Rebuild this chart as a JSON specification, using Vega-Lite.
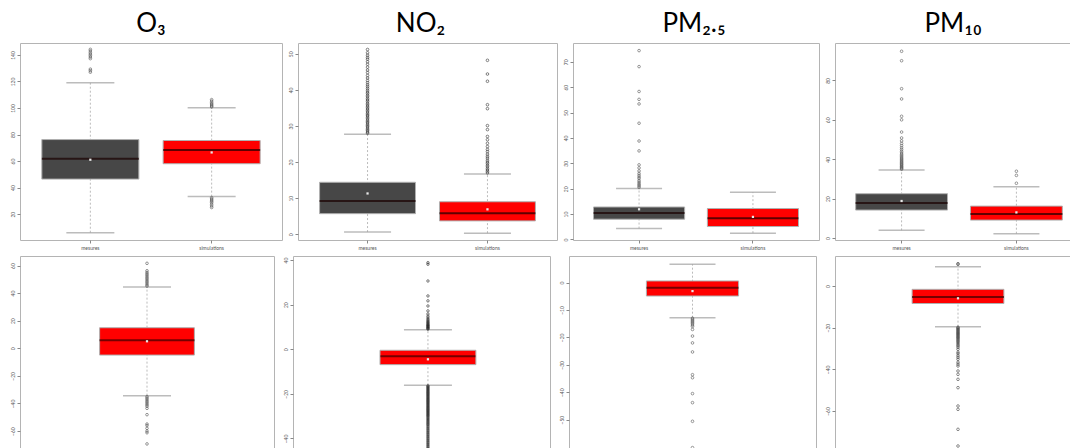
{
"$schema": "https://vega.github.io/schema/vega-lite/v6.json",
"background": "white",
"padding": {"left": 9, "top": 10, "right": 0, "bottom": 0},
"datasets": {
"boxes": [
{"panel":"O3","cat":"mesures","lo":6,"q1":46.4,"med":61.7,"q3":76.2,"hi":119,"mean":61},
{"panel":"O3","cat":"simulations","lo":33.2,"q1":58,"med":68.3,"q3":75.5,"hi":100.2,"mean":66.5},
{"panel":"NO2","cat":"mesures","lo":0.6,"q1":5.7,"med":9.2,"q3":14.4,"hi":27.7,"mean":11.3},
{"panel":"NO2","cat":"simulations","lo":0.3,"q1":3.7,"med":5.8,"q3":9,"hi":16.7,"mean":6.9},
{"panel":"PM25","cat":"mesures","lo":4.3,"q1":8,"med":10.4,"q3":12.8,"hi":20.1,"mean":11.9},
{"panel":"PM25","cat":"simulations","lo":2.5,"q1":5.1,"med":8.4,"q3":12.2,"hi":18.6,"mean":8.9},
{"panel":"PM10","cat":"mesures","lo":3.9,"q1":14.2,"med":17.8,"q3":22.5,"hi":34.5,"mean":18.8},
{"panel":"PM10","cat":"simulations","lo":2.2,"q1":9.1,"med":12.2,"q3":16.2,"hi":26,"mean":13},
{"panel":"dO3","cat":"diff","lo":-34.3,"q1":-4.9,"med":5.8,"q3":14.9,"hi":44.4,"mean":5.1},
{"panel":"dNO2","cat":"diff","lo":-16.1,"q1":-6.9,"med":-3.1,"q3":-0.45,"hi":8.7,"mean":-4.5},
{"panel":"dPM25","cat":"diff","lo":-12.8,"q1":-4.9,"med":-1.9,"q3":0.6,"hi":6.7,"mean":-3.1},
{"panel":"dPM10","cat":"diff","lo":-19.5,"q1":-8.4,"med":-5.3,"q3":-1.6,"hi":9.3,"mean":-5.9}
],
"outliers": [
{"panel":"O3","cat":"mesures","v":127},{"panel":"O3","cat":"mesures","v":128.2},{"panel":"O3","cat":"mesures","v":129.3},{"panel":"O3","cat":"mesures","v":137.2},{"panel":"O3","cat":"mesures","v":138.4},{"panel":"O3","cat":"mesures","v":139.5},{"panel":"O3","cat":"mesures","v":140.6},{"panel":"O3","cat":"mesures","v":141.7},{"panel":"O3","cat":"mesures","v":143},{"panel":"O3","cat":"mesures","v":144.2},
{"panel":"O3","cat":"simulations","v":100.8},{"panel":"O3","cat":"simulations","v":101.5},{"panel":"O3","cat":"simulations","v":102.3},{"panel":"O3","cat":"simulations","v":103.1},{"panel":"O3","cat":"simulations","v":104},{"panel":"O3","cat":"simulations","v":105.2},{"panel":"O3","cat":"simulations","v":106.3},{"panel":"O3","cat":"simulations","v":32.4},{"panel":"O3","cat":"simulations","v":31.5},{"panel":"O3","cat":"simulations","v":30.6},{"panel":"O3","cat":"simulations","v":29.7},{"panel":"O3","cat":"simulations","v":28.8},{"panel":"O3","cat":"simulations","v":27.5},{"panel":"O3","cat":"simulations","v":26.2},{"panel":"O3","cat":"simulations","v":25},
{"panel":"NO2","cat":"mesures","v":28.0},{"panel":"NO2","cat":"mesures","v":28.3},{"panel":"NO2","cat":"mesures","v":28.7},{"panel":"NO2","cat":"mesures","v":29.0},{"panel":"NO2","cat":"mesures","v":29.4},{"panel":"NO2","cat":"mesures","v":29.8},{"panel":"NO2","cat":"mesures","v":30.1},{"panel":"NO2","cat":"mesures","v":30.5},{"panel":"NO2","cat":"mesures","v":30.9},{"panel":"NO2","cat":"mesures","v":31.2},{"panel":"NO2","cat":"mesures","v":31.6},{"panel":"NO2","cat":"mesures","v":32.0},{"panel":"NO2","cat":"mesures","v":32.4},{"panel":"NO2","cat":"mesures","v":32.8},{"panel":"NO2","cat":"mesures","v":33.1},{"panel":"NO2","cat":"mesures","v":33.5},{"panel":"NO2","cat":"mesures","v":33.9},{"panel":"NO2","cat":"mesures","v":34.3},{"panel":"NO2","cat":"mesures","v":34.7},{"panel":"NO2","cat":"mesures","v":35.1},{"panel":"NO2","cat":"mesures","v":35.5},{"panel":"NO2","cat":"mesures","v":35.9},{"panel":"NO2","cat":"mesures","v":36.3},{"panel":"NO2","cat":"mesures","v":36.8},{"panel":"NO2","cat":"mesures","v":37.2},{"panel":"NO2","cat":"mesures","v":37.6},{"panel":"NO2","cat":"mesures","v":38.1},{"panel":"NO2","cat":"mesures","v":38.5},{"panel":"NO2","cat":"mesures","v":39.0},{"panel":"NO2","cat":"mesures","v":39.4},{"panel":"NO2","cat":"mesures","v":39.9},{"panel":"NO2","cat":"mesures","v":40.4},{"panel":"NO2","cat":"mesures","v":40.9},{"panel":"NO2","cat":"mesures","v":41.4},{"panel":"NO2","cat":"mesures","v":42.0},{"panel":"NO2","cat":"mesures","v":42.6},{"panel":"NO2","cat":"mesures","v":43.3},{"panel":"NO2","cat":"mesures","v":44.0},{"panel":"NO2","cat":"mesures","v":44.8},{"panel":"NO2","cat":"mesures","v":45.5},{"panel":"NO2","cat":"mesures","v":46.3},{"panel":"NO2","cat":"mesures","v":47.1},{"panel":"NO2","cat":"mesures","v":47.8},{"panel":"NO2","cat":"mesures","v":48.5},{"panel":"NO2","cat":"mesures","v":49.0},{"panel":"NO2","cat":"mesures","v":49.6},{"panel":"NO2","cat":"mesures","v":50.3},{"panel":"NO2","cat":"mesures","v":51.2},
{"panel":"NO2","cat":"simulations","v":17.0},{"panel":"NO2","cat":"simulations","v":17.4},{"panel":"NO2","cat":"simulations","v":17.8},{"panel":"NO2","cat":"simulations","v":18.2},{"panel":"NO2","cat":"simulations","v":18.7},{"panel":"NO2","cat":"simulations","v":19.1},{"panel":"NO2","cat":"simulations","v":19.6},{"panel":"NO2","cat":"simulations","v":20.0},{"panel":"NO2","cat":"simulations","v":20.5},{"panel":"NO2","cat":"simulations","v":21.1},{"panel":"NO2","cat":"simulations","v":21.6},{"panel":"NO2","cat":"simulations","v":22.2},{"panel":"NO2","cat":"simulations","v":22.9},{"panel":"NO2","cat":"simulations","v":23.5},{"panel":"NO2","cat":"simulations","v":24.3},{"panel":"NO2","cat":"simulations","v":25.2},{"panel":"NO2","cat":"simulations","v":26.2},{"panel":"NO2","cat":"simulations","v":27.1},{"panel":"NO2","cat":"simulations","v":29.0},{"panel":"NO2","cat":"simulations","v":30.1},{"panel":"NO2","cat":"simulations","v":34.8},{"panel":"NO2","cat":"simulations","v":35.9},{"panel":"NO2","cat":"simulations","v":42.4},{"panel":"NO2","cat":"simulations","v":44.4},{"panel":"NO2","cat":"simulations","v":48.2},
{"panel":"PM25","cat":"mesures","v":20.5},{"panel":"PM25","cat":"mesures","v":21},{"panel":"PM25","cat":"mesures","v":21.5},{"panel":"PM25","cat":"mesures","v":22},{"panel":"PM25","cat":"mesures","v":22.6},{"panel":"PM25","cat":"mesures","v":23.2},{"panel":"PM25","cat":"mesures","v":24},{"panel":"PM25","cat":"mesures","v":24.6},{"panel":"PM25","cat":"mesures","v":25.3},{"panel":"PM25","cat":"mesures","v":26},{"panel":"PM25","cat":"mesures","v":27},{"panel":"PM25","cat":"mesures","v":28.2},{"panel":"PM25","cat":"mesures","v":29.4},{"panel":"PM25","cat":"mesures","v":34.9},{"panel":"PM25","cat":"mesures","v":38.8},{"panel":"PM25","cat":"mesures","v":45.8},{"panel":"PM25","cat":"mesures","v":53.4},{"panel":"PM25","cat":"mesures","v":55.2},{"panel":"PM25","cat":"mesures","v":58.3},{"panel":"PM25","cat":"mesures","v":68.1},{"panel":"PM25","cat":"mesures","v":74.4},
{"panel":"PM10","cat":"mesures","v":34.9},{"panel":"PM10","cat":"mesures","v":35.3},{"panel":"PM10","cat":"mesures","v":35.7},{"panel":"PM10","cat":"mesures","v":36.1},{"panel":"PM10","cat":"mesures","v":36.5},{"panel":"PM10","cat":"mesures","v":37.0},{"panel":"PM10","cat":"mesures","v":37.4},{"panel":"PM10","cat":"mesures","v":37.8},{"panel":"PM10","cat":"mesures","v":38.3},{"panel":"PM10","cat":"mesures","v":38.7},{"panel":"PM10","cat":"mesures","v":39.2},{"panel":"PM10","cat":"mesures","v":39.7},{"panel":"PM10","cat":"mesures","v":40.2},{"panel":"PM10","cat":"mesures","v":40.7},{"panel":"PM10","cat":"mesures","v":41.3},{"panel":"PM10","cat":"mesures","v":41.9},{"panel":"PM10","cat":"mesures","v":42.5},{"panel":"PM10","cat":"mesures","v":43.2},{"panel":"PM10","cat":"mesures","v":44.0},{"panel":"PM10","cat":"mesures","v":44.9},{"panel":"PM10","cat":"mesures","v":45.8},{"panel":"PM10","cat":"mesures","v":46.9},{"panel":"PM10","cat":"mesures","v":48.0},{"panel":"PM10","cat":"mesures","v":49.3},{"panel":"PM10","cat":"mesures","v":50.8},{"panel":"PM10","cat":"mesures","v":53.8},{"panel":"PM10","cat":"mesures","v":60.0},{"panel":"PM10","cat":"mesures","v":61.8},{"panel":"PM10","cat":"mesures","v":70.6},{"panel":"PM10","cat":"mesures","v":75.8},{"panel":"PM10","cat":"mesures","v":90.0},{"panel":"PM10","cat":"mesures","v":94.8},
{"panel":"PM10","cat":"simulations","v":27.8},{"panel":"PM10","cat":"simulations","v":31.8},{"panel":"PM10","cat":"simulations","v":33.9},
{"panel":"dO3","cat":"diff","v":45.1},{"panel":"dO3","cat":"diff","v":46},{"panel":"dO3","cat":"diff","v":47},{"panel":"dO3","cat":"diff","v":48},{"panel":"dO3","cat":"diff","v":49},{"panel":"dO3","cat":"diff","v":50},{"panel":"dO3","cat":"diff","v":51},{"panel":"dO3","cat":"diff","v":52},{"panel":"dO3","cat":"diff","v":53},{"panel":"dO3","cat":"diff","v":54},{"panel":"dO3","cat":"diff","v":55},{"panel":"dO3","cat":"diff","v":56.2},{"panel":"dO3","cat":"diff","v":61.6},
{"panel":"dO3","cat":"diff","v":-35},{"panel":"dO3","cat":"diff","v":-36},{"panel":"dO3","cat":"diff","v":-37},{"panel":"dO3","cat":"diff","v":-38},{"panel":"dO3","cat":"diff","v":-39},{"panel":"dO3","cat":"diff","v":-40},{"panel":"dO3","cat":"diff","v":-41},{"panel":"dO3","cat":"diff","v":-42},{"panel":"dO3","cat":"diff","v":-43.5},{"panel":"dO3","cat":"diff","v":-48.1},{"panel":"dO3","cat":"diff","v":-54.9},{"panel":"dO3","cat":"diff","v":-56},{"panel":"dO3","cat":"diff","v":-58},{"panel":"dO3","cat":"diff","v":-60},{"panel":"dO3","cat":"diff","v":-61.2},{"panel":"dO3","cat":"diff","v":-69.3},
{"panel":"dNO2","cat":"diff","v":9.0},{"panel":"dNO2","cat":"diff","v":9.3},{"panel":"dNO2","cat":"diff","v":9.6},{"panel":"dNO2","cat":"diff","v":9.9},{"panel":"dNO2","cat":"diff","v":10.2},{"panel":"dNO2","cat":"diff","v":10.5},{"panel":"dNO2","cat":"diff","v":10.8},{"panel":"dNO2","cat":"diff","v":11.1},{"panel":"dNO2","cat":"diff","v":11.5},{"panel":"dNO2","cat":"diff","v":11.9},{"panel":"dNO2","cat":"diff","v":12.3},{"panel":"dNO2","cat":"diff","v":12.8},{"panel":"dNO2","cat":"diff","v":13.3},{"panel":"dNO2","cat":"diff","v":14.0},{"panel":"dNO2","cat":"diff","v":14.8},{"panel":"dNO2","cat":"diff","v":15.8},{"panel":"dNO2","cat":"diff","v":17.2},{"panel":"dNO2","cat":"diff","v":19.4},{"panel":"dNO2","cat":"diff","v":21.7},{"panel":"dNO2","cat":"diff","v":23.9},{"panel":"dNO2","cat":"diff","v":30.6},{"panel":"dNO2","cat":"diff","v":38.1},{"panel":"dNO2","cat":"diff","v":38.8},
{"panel":"dNO2","cat":"diff","v":-16.4},{"panel":"dNO2","cat":"diff","v":-16.8},{"panel":"dNO2","cat":"diff","v":-17.2},{"panel":"dNO2","cat":"diff","v":-17.6},{"panel":"dNO2","cat":"diff","v":-18.0},{"panel":"dNO2","cat":"diff","v":-18.4},{"panel":"dNO2","cat":"diff","v":-18.8},{"panel":"dNO2","cat":"diff","v":-19.2},{"panel":"dNO2","cat":"diff","v":-19.6},{"panel":"dNO2","cat":"diff","v":-20.0},{"panel":"dNO2","cat":"diff","v":-20.4},{"panel":"dNO2","cat":"diff","v":-20.8},{"panel":"dNO2","cat":"diff","v":-21.2},{"panel":"dNO2","cat":"diff","v":-21.6},{"panel":"dNO2","cat":"diff","v":-22.0},{"panel":"dNO2","cat":"diff","v":-22.4},{"panel":"dNO2","cat":"diff","v":-22.8},{"panel":"dNO2","cat":"diff","v":-23.2},{"panel":"dNO2","cat":"diff","v":-23.6},{"panel":"dNO2","cat":"diff","v":-24.0},{"panel":"dNO2","cat":"diff","v":-24.4},{"panel":"dNO2","cat":"diff","v":-24.8},{"panel":"dNO2","cat":"diff","v":-25.2},{"panel":"dNO2","cat":"diff","v":-25.6},{"panel":"dNO2","cat":"diff","v":-26.0},{"panel":"dNO2","cat":"diff","v":-26.4},{"panel":"dNO2","cat":"diff","v":-26.8},{"panel":"dNO2","cat":"diff","v":-27.2},{"panel":"dNO2","cat":"diff","v":-27.6},{"panel":"dNO2","cat":"diff","v":-28.0},{"panel":"dNO2","cat":"diff","v":-28.4},{"panel":"dNO2","cat":"diff","v":-28.8},{"panel":"dNO2","cat":"diff","v":-29.2},{"panel":"dNO2","cat":"diff","v":-29.6},{"panel":"dNO2","cat":"diff","v":-30.0},{"panel":"dNO2","cat":"diff","v":-30.5},{"panel":"dNO2","cat":"diff","v":-31.0},{"panel":"dNO2","cat":"diff","v":-31.5},{"panel":"dNO2","cat":"diff","v":-32.0},{"panel":"dNO2","cat":"diff","v":-32.5},{"panel":"dNO2","cat":"diff","v":-33.0},{"panel":"dNO2","cat":"diff","v":-33.5},{"panel":"dNO2","cat":"diff","v":-34.0},{"panel":"dNO2","cat":"diff","v":-34.6},{"panel":"dNO2","cat":"diff","v":-35.2},{"panel":"dNO2","cat":"diff","v":-35.8},{"panel":"dNO2","cat":"diff","v":-36.4},{"panel":"dNO2","cat":"diff","v":-37.0},{"panel":"dNO2","cat":"diff","v":-37.6},{"panel":"dNO2","cat":"diff","v":-38.2},{"panel":"dNO2","cat":"diff","v":-38.8},{"panel":"dNO2","cat":"diff","v":-39.4},{"panel":"dNO2","cat":"diff","v":-40.0},{"panel":"dNO2","cat":"diff","v":-40.6},{"panel":"dNO2","cat":"diff","v":-41.2},{"panel":"dNO2","cat":"diff","v":-41.8},{"panel":"dNO2","cat":"diff","v":-42.4},{"panel":"dNO2","cat":"diff","v":-43.0},{"panel":"dNO2","cat":"diff","v":-43.6},{"panel":"dNO2","cat":"diff","v":-44.2},{"panel":"dNO2","cat":"diff","v":-44.8},{"panel":"dNO2","cat":"diff","v":-45.6},{"panel":"dNO2","cat":"diff","v":-46.4},{"panel":"dNO2","cat":"diff","v":-47.5},{"panel":"dNO2","cat":"diff","v":-48.6},{"panel":"dNO2","cat":"diff","v":-50.0},
{"panel":"dPM25","cat":"diff","v":-13},{"panel":"dPM25","cat":"diff","v":-13.4},{"panel":"dPM25","cat":"diff","v":-13.8},{"panel":"dPM25","cat":"diff","v":-14.2},{"panel":"dPM25","cat":"diff","v":-14.6},{"panel":"dPM25","cat":"diff","v":-15},{"panel":"dPM25","cat":"diff","v":-15.5},{"panel":"dPM25","cat":"diff","v":-16},{"panel":"dPM25","cat":"diff","v":-17.1},{"panel":"dPM25","cat":"diff","v":-19.5},{"panel":"dPM25","cat":"diff","v":-22},{"panel":"dPM25","cat":"diff","v":-25.3},{"panel":"dPM25","cat":"diff","v":-33.6},{"panel":"dPM25","cat":"diff","v":-34.7},{"panel":"dPM25","cat":"diff","v":-40.5},{"panel":"dPM25","cat":"diff","v":-43.8},{"panel":"dPM25","cat":"diff","v":-50.6},{"panel":"dPM25","cat":"diff","v":-60.2},
{"panel":"dPM10","cat":"diff","v":10.4},{"panel":"dPM10","cat":"diff","v":10.7},
{"panel":"dPM10","cat":"diff","v":-19.8},{"panel":"dPM10","cat":"diff","v":-20.2},{"panel":"dPM10","cat":"diff","v":-20.6},{"panel":"dPM10","cat":"diff","v":-21.0},{"panel":"dPM10","cat":"diff","v":-21.4},{"panel":"dPM10","cat":"diff","v":-21.8},{"panel":"dPM10","cat":"diff","v":-22.2},{"panel":"dPM10","cat":"diff","v":-22.6},{"panel":"dPM10","cat":"diff","v":-23.0},{"panel":"dPM10","cat":"diff","v":-23.4},{"panel":"dPM10","cat":"diff","v":-23.8},{"panel":"dPM10","cat":"diff","v":-24.2},{"panel":"dPM10","cat":"diff","v":-24.6},{"panel":"dPM10","cat":"diff","v":-25.0},{"panel":"dPM10","cat":"diff","v":-25.5},{"panel":"dPM10","cat":"diff","v":-26.0},{"panel":"dPM10","cat":"diff","v":-26.5},{"panel":"dPM10","cat":"diff","v":-27.0},{"panel":"dPM10","cat":"diff","v":-27.6},{"panel":"dPM10","cat":"diff","v":-28.2},{"panel":"dPM10","cat":"diff","v":-28.8},{"panel":"dPM10","cat":"diff","v":-29.5},{"panel":"dPM10","cat":"diff","v":-30.4},{"panel":"dPM10","cat":"diff","v":-31.8},{"panel":"dPM10","cat":"diff","v":-32.5},{"panel":"dPM10","cat":"diff","v":-33.5},{"panel":"dPM10","cat":"diff","v":-34.3},{"panel":"dPM10","cat":"diff","v":-35.2},{"panel":"dPM10","cat":"diff","v":-36.6},{"panel":"dPM10","cat":"diff","v":-37.5},{"panel":"dPM10","cat":"diff","v":-38.4},{"panel":"dPM10","cat":"diff","v":-40.8},{"panel":"dPM10","cat":"diff","v":-42.4},{"panel":"dPM10","cat":"diff","v":-44.8},{"panel":"dPM10","cat":"diff","v":-48.8},{"panel":"dPM10","cat":"diff","v":-57.6},{"panel":"dPM10","cat":"diff","v":-59.2},{"panel":"dPM10","cat":"diff","v":-68.8},{"panel":"dPM10","cat":"diff","v":-76.8}
]
},
"vconcat": [
{"hconcat": [
{"width": 262, "height": 197, "title": {"text": "O₃"},
 "data": {"name": "boxes"}, "transform": [{"filter": "datum.panel == 'O3'"}],
 "encoding": {"x": {"field": "cat", "type": "nominal", "title": null, "sort": null, "scale": {"domain": ["mesures", "simulations"], "paddingInner": 0.2, "paddingOuter": 0.18}, "axis": {"labelAngle": 0}}},
 "layer": [
  {"mark": {"type": "rule", "color": "#aaaaaa", "strokeDash": [2, 2], "strokeWidth": 0.8}, "encoding": {"y": {"field": "lo", "type": "quantitative", "title": null, "scale": {"domain": [0.5, 149], "nice": false, "zero": false}, "axis": {"values": [20, 40, 60, 80, 100, 120, 140], "labelAngle": -90, "labelOverlap": false}}, "y2": {"field": "hi"}}},
  {"mark": {"type": "bar", "stroke": "#b0b0b0", "strokeWidth": 1}, "encoding": {"y": {"field": "q1", "type": "quantitative", "title": null, "axis": {"values": [20, 40, 60, 80, 100, 120, 140], "labelAngle": -90, "labelOverlap": false}}, "y2": {"field": "q3"}, "color": {"field": "cat", "type": "nominal", "scale": {"domain": ["mesures", "simulations", "diff"], "range": ["#474747", "#ff0000", "#ff0000"]}, "legend": null}}},
  {"mark": {"type": "tick", "color": "#a0a0a0", "thickness": 1.5, "size": 48}, "encoding": {"y": {"field": "lo", "type": "quantitative", "title": null, "axis": {"values": [20, 40, 60, 80, 100, 120, 140], "labelAngle": -90, "labelOverlap": false}}}},
  {"mark": {"type": "tick", "color": "#a0a0a0", "thickness": 1.5, "size": 48}, "encoding": {"y": {"field": "hi", "type": "quantitative", "title": null, "axis": {"values": [20, 40, 60, 80, 100, 120, 140], "labelAngle": -90, "labelOverlap": false}}}},
  {"mark": {"type": "tick", "color": "#1a0000", "thickness": 2, "size": 97}, "encoding": {"y": {"field": "med", "type": "quantitative", "title": null, "axis": {"values": [20, 40, 60, 80, 100, 120, 140], "labelAngle": -90, "labelOverlap": false}}}},
  {"mark": {"type": "point", "shape": "square", "filled": true, "color": "#e8e8e8", "size": 5, "opacity": 1}, "encoding": {"y": {"field": "mean", "type": "quantitative", "title": null, "axis": {"values": [20, 40, 60, 80, 100, 120, 140], "labelAngle": -90, "labelOverlap": false}}}},
  {"data": {"name": "outliers"}, "transform": [{"filter": "datum.panel == 'O3'"}], "mark": {"type": "point", "filled": false, "color": "#555555", "size": 7, "strokeWidth": 0.6, "opacity": 1}, "encoding": {"y": {"field": "v", "type": "quantitative", "title": null, "axis": {"values": [20, 40, 60, 80, 100, 120, 140], "labelAngle": -90, "labelOverlap": false}}}}
 ]},
{"width": 259, "height": 197, "title": {"text": "NO₂", "dx": -7},
 "data": {"name": "boxes"}, "transform": [{"filter": "datum.panel == 'NO2'"}],
 "encoding": {"x": {"field": "cat", "type": "nominal", "title": null, "sort": null, "scale": {"domain": ["mesures", "simulations"], "paddingInner": 0.2, "paddingOuter": 0.18}, "axis": {"labelAngle": 0}}},
 "layer": [
  {"mark": {"type": "rule", "color": "#aaaaaa", "strokeDash": [2, 2], "strokeWidth": 0.8}, "encoding": {"y": {"field": "lo", "type": "quantitative", "title": null, "scale": {"domain": [-1.6, 53], "nice": false, "zero": false}, "axis": {"values": [0, 10, 20, 30, 40, 50], "labelAngle": -90, "labelOverlap": false}}, "y2": {"field": "hi"}}},
  {"mark": {"type": "bar", "stroke": "#b0b0b0", "strokeWidth": 1}, "encoding": {"y": {"field": "q1", "type": "quantitative", "title": null, "axis": {"values": [0, 10, 20, 30, 40, 50], "labelAngle": -90, "labelOverlap": false}}, "y2": {"field": "q3"}, "color": {"field": "cat", "type": "nominal", "scale": {"domain": ["mesures", "simulations", "diff"], "range": ["#474747", "#ff0000", "#ff0000"]}, "legend": null}}},
  {"mark": {"type": "tick", "color": "#a0a0a0", "thickness": 1.5, "size": 47}, "encoding": {"y": {"field": "lo", "type": "quantitative", "title": null, "axis": {"values": [0, 10, 20, 30, 40, 50], "labelAngle": -90, "labelOverlap": false}}}},
  {"mark": {"type": "tick", "color": "#a0a0a0", "thickness": 1.5, "size": 47}, "encoding": {"y": {"field": "hi", "type": "quantitative", "title": null, "axis": {"values": [0, 10, 20, 30, 40, 50], "labelAngle": -90, "labelOverlap": false}}}},
  {"mark": {"type": "tick", "color": "#1a0000", "thickness": 2, "size": 96}, "encoding": {"y": {"field": "med", "type": "quantitative", "title": null, "axis": {"values": [0, 10, 20, 30, 40, 50], "labelAngle": -90, "labelOverlap": false}}}},
  {"mark": {"type": "point", "shape": "square", "filled": true, "color": "#e8e8e8", "size": 5, "opacity": 1}, "encoding": {"y": {"field": "mean", "type": "quantitative", "title": null, "axis": {"values": [0, 10, 20, 30, 40, 50], "labelAngle": -90, "labelOverlap": false}}}},
  {"data": {"name": "outliers"}, "transform": [{"filter": "datum.panel == 'NO2'"}], "mark": {"type": "point", "filled": false, "color": "#333333", "size": 7, "strokeWidth": 0.6, "opacity": 1}, "encoding": {"y": {"field": "v", "type": "quantitative", "title": null, "axis": {"values": [0, 10, 20, 30, 40, 50], "labelAngle": -90, "labelOverlap": false}}}}
 ]},
{"width": 246, "height": 197, "title": {"text": "PM₂.₅", "dx": -2},
 "data": {"name": "boxes"}, "transform": [{"filter": "datum.panel == 'PM25'"}],
 "encoding": {"x": {"field": "cat", "type": "nominal", "title": null, "sort": null, "scale": {"domain": ["mesures", "simulations"], "paddingInner": 0.2, "paddingOuter": 0.18}, "axis": {"labelAngle": 0}}},
 "layer": [
  {"mark": {"type": "rule", "color": "#aaaaaa", "strokeDash": [2, 2], "strokeWidth": 0.8}, "encoding": {"y": {"field": "lo", "type": "quantitative", "title": null, "scale": {"domain": [-0.2, 77.4], "nice": false, "zero": false}, "axis": {"values": [0, 10, 20, 30, 40, 50, 60, 70], "labelAngle": -90, "labelOverlap": false}}, "y2": {"field": "hi"}}},
  {"mark": {"type": "bar", "stroke": "#b0b0b0", "strokeWidth": 1}, "encoding": {"y": {"field": "q1", "type": "quantitative", "title": null, "axis": {"values": [0, 10, 20, 30, 40, 50, 60, 70], "labelAngle": -90, "labelOverlap": false}}, "y2": {"field": "q3"}, "color": {"field": "cat", "type": "nominal", "scale": {"domain": ["mesures", "simulations", "diff"], "range": ["#474747", "#ff0000", "#ff0000"]}, "legend": null}}},
  {"mark": {"type": "tick", "color": "#a0a0a0", "thickness": 1.5, "size": 46}, "encoding": {"y": {"field": "lo", "type": "quantitative", "title": null, "axis": {"values": [0, 10, 20, 30, 40, 50, 60, 70], "labelAngle": -90, "labelOverlap": false}}}},
  {"mark": {"type": "tick", "color": "#a0a0a0", "thickness": 1.5, "size": 46}, "encoding": {"y": {"field": "hi", "type": "quantitative", "title": null, "axis": {"values": [0, 10, 20, 30, 40, 50, 60, 70], "labelAngle": -90, "labelOverlap": false}}}},
  {"mark": {"type": "tick", "color": "#1a0000", "thickness": 2, "size": 91}, "encoding": {"y": {"field": "med", "type": "quantitative", "title": null, "axis": {"values": [0, 10, 20, 30, 40, 50, 60, 70], "labelAngle": -90, "labelOverlap": false}}}},
  {"mark": {"type": "point", "shape": "square", "filled": true, "color": "#e8e8e8", "size": 5, "opacity": 1}, "encoding": {"y": {"field": "mean", "type": "quantitative", "title": null, "axis": {"values": [0, 10, 20, 30, 40, 50, 60, 70], "labelAngle": -90, "labelOverlap": false}}}},
  {"data": {"name": "outliers"}, "transform": [{"filter": "datum.panel == 'PM25'"}], "mark": {"type": "point", "filled": false, "color": "#555555", "size": 7, "strokeWidth": 0.6, "opacity": 1}, "encoding": {"y": {"field": "v", "type": "quantitative", "title": null, "axis": {"values": [0, 10, 20, 30, 40, 50, 60, 70], "labelAngle": -90, "labelOverlap": false}}}}
 ]},
{"width": 248, "height": 197, "title": {"text": "PM₁₀", "dx": -6},
 "data": {"name": "boxes"}, "transform": [{"filter": "datum.panel == 'PM10'"}],
 "encoding": {"x": {"field": "cat", "type": "nominal", "title": null, "sort": null, "scale": {"domain": ["mesures", "simulations"], "paddingInner": 0.2, "paddingOuter": 0.18}, "axis": {"labelAngle": 0}}},
 "layer": [
  {"mark": {"type": "rule", "color": "#aaaaaa", "strokeDash": [2, 2], "strokeWidth": 0.8}, "encoding": {"y": {"field": "lo", "type": "quantitative", "title": null, "scale": {"domain": [-1, 99], "nice": false, "zero": false}, "axis": {"values": [0, 20, 40, 60, 80], "labelAngle": -90, "labelOverlap": false}}, "y2": {"field": "hi"}}},
  {"mark": {"type": "bar", "stroke": "#b0b0b0", "strokeWidth": 1}, "encoding": {"y": {"field": "q1", "type": "quantitative", "title": null, "axis": {"values": [0, 20, 40, 60, 80], "labelAngle": -90, "labelOverlap": false}}, "y2": {"field": "q3"}, "color": {"field": "cat", "type": "nominal", "scale": {"domain": ["mesures", "simulations", "diff"], "range": ["#474747", "#ff0000", "#ff0000"]}, "legend": null}}},
  {"mark": {"type": "tick", "color": "#a0a0a0", "thickness": 1.5, "size": 46}, "encoding": {"y": {"field": "lo", "type": "quantitative", "title": null, "axis": {"values": [0, 20, 40, 60, 80], "labelAngle": -90, "labelOverlap": false}}}},
  {"mark": {"type": "tick", "color": "#a0a0a0", "thickness": 1.5, "size": 46}, "encoding": {"y": {"field": "hi", "type": "quantitative", "title": null, "axis": {"values": [0, 20, 40, 60, 80], "labelAngle": -90, "labelOverlap": false}}}},
  {"mark": {"type": "tick", "color": "#1a0000", "thickness": 2, "size": 92}, "encoding": {"y": {"field": "med", "type": "quantitative", "title": null, "axis": {"values": [0, 20, 40, 60, 80], "labelAngle": -90, "labelOverlap": false}}}},
  {"mark": {"type": "point", "shape": "square", "filled": true, "color": "#e8e8e8", "size": 5, "opacity": 1}, "encoding": {"y": {"field": "mean", "type": "quantitative", "title": null, "axis": {"values": [0, 20, 40, 60, 80], "labelAngle": -90, "labelOverlap": false}}}},
  {"data": {"name": "outliers"}, "transform": [{"filter": "datum.panel == 'PM10'"}], "mark": {"type": "point", "filled": false, "color": "#555555", "size": 7, "strokeWidth": 0.6, "opacity": 1}, "encoding": {"y": {"field": "v", "type": "quantitative", "title": null, "axis": {"values": [0, 20, 40, 60, 80], "labelAngle": -90, "labelOverlap": false}}}}
 ]}
], "spacing": 16, "bounds": "flush"},
{"hconcat": [
{"width": 254, "height": 230,
 "data": {"name": "boxes"}, "transform": [{"filter": "datum.panel == 'dO3'"}],
 "encoding": {"x": {"field": "cat", "type": "nominal", "title": null, "scale": {"domain": ["diff"], "paddingInner": 0, "paddingOuter": 0.84}, "axis": null}},
 "layer": [
  {"mark": {"type": "rule", "color": "#aaaaaa", "strokeDash": [2, 2], "strokeWidth": 0.8}, "encoding": {"y": {"field": "lo", "type": "quantitative", "title": null, "scale": {"domain": [-99.8, 66.9], "nice": false, "zero": false}, "axis": {"values": [-60, -40, -20, 0, 20, 40, 60], "labelAngle": -90, "labelOverlap": false}}, "y2": {"field": "hi"}}},
  {"mark": {"type": "bar", "stroke": "#b0b0b0", "strokeWidth": 1}, "encoding": {"y": {"field": "q1", "type": "quantitative", "title": null, "axis": {"values": [-60, -40, -20, 0, 20, 40, 60], "labelAngle": -90, "labelOverlap": false}}, "y2": {"field": "q3"}, "color": {"field": "cat", "type": "nominal", "scale": {"domain": ["mesures", "simulations", "diff"], "range": ["#474747", "#ff0000", "#ff0000"]}, "legend": null}}},
  {"mark": {"type": "tick", "color": "#a0a0a0", "thickness": 1.5, "size": 48}, "encoding": {"y": {"field": "lo", "type": "quantitative", "title": null, "axis": {"values": [-60, -40, -20, 0, 20, 40, 60], "labelAngle": -90, "labelOverlap": false}}}},
  {"mark": {"type": "tick", "color": "#a0a0a0", "thickness": 1.5, "size": 48}, "encoding": {"y": {"field": "hi", "type": "quantitative", "title": null, "axis": {"values": [-60, -40, -20, 0, 20, 40, 60], "labelAngle": -90, "labelOverlap": false}}}},
  {"mark": {"type": "tick", "color": "#3a0000", "thickness": 2, "size": 95}, "encoding": {"y": {"field": "med", "type": "quantitative", "title": null, "axis": {"values": [-60, -40, -20, 0, 20, 40, 60], "labelAngle": -90, "labelOverlap": false}}}},
  {"mark": {"type": "point", "shape": "square", "filled": true, "color": "#e8e8e8", "size": 5, "opacity": 1}, "encoding": {"y": {"field": "mean", "type": "quantitative", "title": null, "axis": {"values": [-60, -40, -20, 0, 20, 40, 60], "labelAngle": -90, "labelOverlap": false}}}},
  {"data": {"name": "outliers"}, "transform": [{"filter": "datum.panel == 'dO3'"}], "mark": {"type": "point", "filled": false, "color": "#555555", "size": 7, "strokeWidth": 0.6, "opacity": 1}, "encoding": {"y": {"field": "v", "type": "quantitative", "title": null, "axis": {"values": [-60, -40, -20, 0, 20, 40, 60], "labelAngle": -90, "labelOverlap": false}}}}
 ]},
{"width": 257, "height": 230,
 "data": {"name": "boxes"}, "transform": [{"filter": "datum.panel == 'dNO2'"}],
 "encoding": {"x": {"field": "cat", "type": "nominal", "title": null, "scale": {"domain": ["diff"], "paddingInner": 0, "paddingOuter": 0.84, "align": 0.54}, "axis": null}},
 "layer": [
  {"mark": {"type": "rule", "color": "#aaaaaa", "strokeDash": [2, 2], "strokeWidth": 0.8}, "encoding": {"y": {"field": "lo", "type": "quantitative", "title": null, "scale": {"domain": [-61.3, 41.8], "nice": false, "zero": false}, "axis": {"values": [-40, -20, 0, 20, 40], "labelAngle": -90, "labelOverlap": false}}, "y2": {"field": "hi"}}},
  {"mark": {"type": "bar", "stroke": "#b0b0b0", "strokeWidth": 1}, "encoding": {"y": {"field": "q1", "type": "quantitative", "title": null, "axis": {"values": [-40, -20, 0, 20, 40], "labelAngle": -90, "labelOverlap": false}}, "y2": {"field": "q3"}, "color": {"field": "cat", "type": "nominal", "scale": {"domain": ["mesures", "simulations", "diff"], "range": ["#474747", "#ff0000", "#ff0000"]}, "legend": null}}},
  {"mark": {"type": "tick", "color": "#a0a0a0", "thickness": 1.5, "size": 48}, "encoding": {"y": {"field": "lo", "type": "quantitative", "title": null, "axis": {"values": [-40, -20, 0, 20, 40], "labelAngle": -90, "labelOverlap": false}}}},
  {"mark": {"type": "tick", "color": "#a0a0a0", "thickness": 1.5, "size": 48}, "encoding": {"y": {"field": "hi", "type": "quantitative", "title": null, "axis": {"values": [-40, -20, 0, 20, 40], "labelAngle": -90, "labelOverlap": false}}}},
  {"mark": {"type": "tick", "color": "#3a0000", "thickness": 2, "size": 95}, "encoding": {"y": {"field": "med", "type": "quantitative", "title": null, "axis": {"values": [-40, -20, 0, 20, 40], "labelAngle": -90, "labelOverlap": false}}}},
  {"mark": {"type": "point", "shape": "square", "filled": true, "color": "#e8e8e8", "size": 5, "opacity": 1}, "encoding": {"y": {"field": "mean", "type": "quantitative", "title": null, "axis": {"values": [-40, -20, 0, 20, 40], "labelAngle": -90, "labelOverlap": false}}}},
  {"data": {"name": "outliers"}, "transform": [{"filter": "datum.panel == 'dNO2'"}], "mark": {"type": "point", "filled": false, "color": "#222222", "size": 6, "strokeWidth": 0.6, "opacity": 1}, "encoding": {"y": {"field": "v", "type": "quantitative", "title": null, "axis": {"values": [-40, -20, 0, 20, 40], "labelAngle": -90, "labelOverlap": false}}}}
 ]},
{"width": 247, "height": 230,
 "data": {"name": "boxes"}, "transform": [{"filter": "datum.panel == 'dPM25'"}],
 "encoding": {"x": {"field": "cat", "type": "nominal", "title": null, "scale": {"domain": ["diff"], "paddingInner": 0, "paddingOuter": 0.84}, "axis": null}},
 "layer": [
  {"mark": {"type": "rule", "color": "#aaaaaa", "strokeDash": [2, 2], "strokeWidth": 0.8}, "encoding": {"y": {"field": "lo", "type": "quantitative", "title": null, "scale": {"domain": [-74.2, 9.7], "nice": false, "zero": false}, "axis": {"values": [-50, -40, -30, -20, -10, 0], "labelAngle": -90, "labelOverlap": false}}, "y2": {"field": "hi"}}},
  {"mark": {"type": "bar", "stroke": "#b0b0b0", "strokeWidth": 1}, "encoding": {"y": {"field": "q1", "type": "quantitative", "title": null, "axis": {"values": [-50, -40, -30, -20, -10, 0], "labelAngle": -90, "labelOverlap": false}}, "y2": {"field": "q3"}, "color": {"field": "cat", "type": "nominal", "scale": {"domain": ["mesures", "simulations", "diff"], "range": ["#474747", "#ff0000", "#ff0000"]}, "legend": null}}},
  {"mark": {"type": "tick", "color": "#a0a0a0", "thickness": 1.5, "size": 46}, "encoding": {"y": {"field": "lo", "type": "quantitative", "title": null, "axis": {"values": [-50, -40, -30, -20, -10, 0], "labelAngle": -90, "labelOverlap": false}}}},
  {"mark": {"type": "tick", "color": "#a0a0a0", "thickness": 1.5, "size": 46}, "encoding": {"y": {"field": "hi", "type": "quantitative", "title": null, "axis": {"values": [-50, -40, -30, -20, -10, 0], "labelAngle": -90, "labelOverlap": false}}}},
  {"mark": {"type": "tick", "color": "#3a0000", "thickness": 2, "size": 92}, "encoding": {"y": {"field": "med", "type": "quantitative", "title": null, "axis": {"values": [-50, -40, -30, -20, -10, 0], "labelAngle": -90, "labelOverlap": false}}}},
  {"mark": {"type": "point", "shape": "square", "filled": true, "color": "#e8e8e8", "size": 5, "opacity": 1}, "encoding": {"y": {"field": "mean", "type": "quantitative", "title": null, "axis": {"values": [-50, -40, -30, -20, -10, 0], "labelAngle": -90, "labelOverlap": false}}}},
  {"data": {"name": "outliers"}, "transform": [{"filter": "datum.panel == 'dPM25'"}], "mark": {"type": "point", "filled": false, "color": "#555555", "size": 7, "strokeWidth": 0.6, "opacity": 1}, "encoding": {"y": {"field": "v", "type": "quantitative", "title": null, "axis": {"values": [-50, -40, -30, -20, -10, 0], "labelAngle": -90, "labelOverlap": false}}}}
 ]},
{"width": 246, "height": 230,
 "data": {"name": "boxes"}, "transform": [{"filter": "datum.panel == 'dPM10'"}],
 "encoding": {"x": {"field": "cat", "type": "nominal", "title": null, "scale": {"domain": ["diff"], "paddingInner": 0, "paddingOuter": 0.84}, "axis": null}},
 "layer": [
  {"mark": {"type": "rule", "color": "#aaaaaa", "strokeDash": [2, 2], "strokeWidth": 0.8}, "encoding": {"y": {"field": "lo", "type": "quantitative", "title": null, "scale": {"domain": [-96, 14.4], "nice": false, "zero": false}, "axis": {"values": [-60, -40, -20, 0], "labelAngle": -90, "labelOverlap": false}}, "y2": {"field": "hi"}}},
  {"mark": {"type": "bar", "stroke": "#b0b0b0", "strokeWidth": 1}, "encoding": {"y": {"field": "q1", "type": "quantitative", "title": null, "axis": {"values": [-60, -40, -20, 0], "labelAngle": -90, "labelOverlap": false}}, "y2": {"field": "q3"}, "color": {"field": "cat", "type": "nominal", "scale": {"domain": ["mesures", "simulations", "diff"], "range": ["#474747", "#ff0000", "#ff0000"]}, "legend": null}}},
  {"mark": {"type": "tick", "color": "#a0a0a0", "thickness": 1.5, "size": 46}, "encoding": {"y": {"field": "lo", "type": "quantitative", "title": null, "axis": {"values": [-60, -40, -20, 0], "labelAngle": -90, "labelOverlap": false}}}},
  {"mark": {"type": "tick", "color": "#a0a0a0", "thickness": 1.5, "size": 46}, "encoding": {"y": {"field": "hi", "type": "quantitative", "title": null, "axis": {"values": [-60, -40, -20, 0], "labelAngle": -90, "labelOverlap": false}}}},
  {"mark": {"type": "tick", "color": "#3a0000", "thickness": 2, "size": 92}, "encoding": {"y": {"field": "med", "type": "quantitative", "title": null, "axis": {"values": [-60, -40, -20, 0], "labelAngle": -90, "labelOverlap": false}}}},
  {"mark": {"type": "point", "shape": "square", "filled": true, "color": "#e8e8e8", "size": 5, "opacity": 1}, "encoding": {"y": {"field": "mean", "type": "quantitative", "title": null, "axis": {"values": [-60, -40, -20, 0], "labelAngle": -90, "labelOverlap": false}}}},
  {"data": {"name": "outliers"}, "transform": [{"filter": "datum.panel == 'dPM10'"}], "mark": {"type": "point", "filled": false, "color": "#444444", "size": 7, "strokeWidth": 0.6, "opacity": 1}, "encoding": {"y": {"field": "v", "type": "quantitative", "title": null, "axis": {"values": [-60, -40, -20, 0], "labelAngle": -90, "labelOverlap": false}}}}
 ]}
], "spacing": 19, "bounds": "flush"}
],
"spacing": 4,
"config": {
 "font": "Lato",
 "view": {"stroke": "#b4b4b4", "strokeWidth": 1},
 "axis": {"grid": false, "domain": false, "tickColor": "#888888", "tickSize": 3, "labelFontSize": 5, "labelColor": "#555555", "labelPadding": 2, "labelOverlap": false},
 "title": {"fontSize": 26, "font": "Lato", "fontWeight": "normal", "color": "#000000", "offset": 6}
}
}
